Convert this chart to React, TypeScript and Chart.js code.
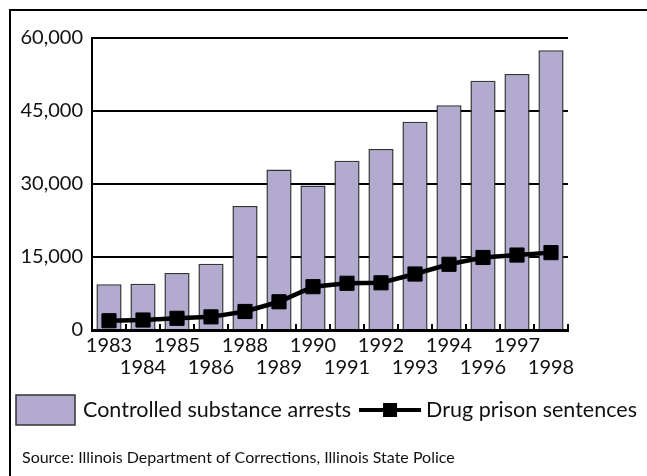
import React, { useEffect, useRef } from "react";
import { Chart, registerables } from "chart.js";

Chart.register(...registerables);

// Years shown along the bottom axis (alternating rows)
const years = ["1983", "1984", "1985", "1986", "1988", "1989", "1990", "1991", "1992", "1993", "1994", "1996", "1997", "1998"];

// Controlled substance arrests per year
const arrests = [9400, 9500, 11700, 13600, 25500, 33000, 29700, 34800, 37200, 42800, 46200, 51200, 52600, 57500];

// Drug prison sentences per year
const sentences = [1900, 2050, 2400, 2700, 3800, 5800, 8900, 9600, 9700, 11500, 13500, 14900, 15400, 15900];

// Value axis ticks
const yTicks = [0, 15000, 30000, 45000, 60000];

const arrestsLabel = "Controlled substance arrests";
const sentencesLabel = "Drug prison sentences";
const sourceNote = "Source: Illinois Department of Corrections, Illinois State Police";

const BAR_FILL = "#b3aacf";
const BAR_EDGE = "#333333";
const INK = "#111111";
const FONT = "Lato, 'Open Sans', sans-serif";

// Split labels onto two rows so neighbouring years never collide
const twoRowLabels = years.map((y, i) => (i % 2 === 0 ? [y, ""] : ["", y]));

// Short upward ticks at category boundaries along the bottom axis
const boundaryTicks = {
  id: "boundaryTicks",
  beforeDatasetsDraw(chart: any) {
    const x = chart.scales.x;
    const area = chart.chartArea;
    const n = years.length;
    const ctx = chart.ctx;
    ctx.save();
    ctx.strokeStyle = "#000";
    ctx.lineWidth = 2;
    for (let i = 1; i <= n; i++) {
      const px = x.left + (i * (x.right - x.left)) / n;
      ctx.beginPath();
      ctx.moveTo(px, area.bottom);
      ctx.lineTo(px, area.bottom - 6);
      ctx.stroke();
    }
    ctx.restore();
  },
};

// Legend row and source note beneath the chart
const legendAndNote = {
  id: "legendAndNote",
  afterDraw(chart: any) {
    const ctx = chart.ctx;
    const rowY = 410;
    ctx.save();

    // swatch for the bar series
    const sw = { x: 16, y: 395, w: 59, h: 30 };
    ctx.fillStyle = BAR_FILL;
    ctx.fillRect(sw.x, sw.y, sw.w, sw.h);
    ctx.strokeStyle = BAR_EDGE;
    ctx.lineWidth = 1.5;
    ctx.strokeRect(sw.x, sw.y, sw.w, sw.h);

    ctx.font = `21.5px ${FONT}`;
    ctx.fillStyle = INK;
    ctx.textBaseline = "middle";
    ctx.textAlign = "left";
    const t1x = sw.x + sw.w + 8;
    ctx.fillText(arrestsLabel, t1x, rowY);
    const t1w = ctx.measureText(arrestsLabel).width;

    // line sample with square marker
    const lx0 = t1x + t1w + 8;
    const lx1 = lx0 + 62;
    ctx.strokeStyle = "#000";
    ctx.lineWidth = 4;
    ctx.beginPath();
    ctx.moveTo(lx0, rowY);
    ctx.lineTo(lx1, rowY);
    ctx.stroke();
    const m = 14;
    ctx.fillStyle = "#000";
    ctx.fillRect((lx0 + lx1) / 2 - m / 2, rowY - m / 2, m, m);

    ctx.fillStyle = INK;
    ctx.fillText(sentencesLabel, lx1 + 5, rowY);

    ctx.font = `16px ${FONT}`;
    ctx.fillText(sourceNote, 22, 458);
    ctx.restore();
  },
};

export default function App() {
  const canvasRef = useRef<HTMLCanvasElement | null>(null);

  useEffect(() => {
    const canvas = canvasRef.current;
    if (!canvas) return;
    const chart = new Chart(canvas, {
      type: "bar",
      data: {
        labels: twoRowLabels as any,
        datasets: [
          {
            type: "line",
            label: sentencesLabel,
            data: sentences,
            borderColor: "#000",
            backgroundColor: "#000",
            borderWidth: 4.5,
            pointStyle: "rect",
            pointRadius: 10,
            pointBorderWidth: 1,
            pointBackgroundColor: "#000",
            pointBorderColor: "#000",
            tension: 0,
            order: 0,
          } as any,
          {
            type: "bar",
            label: arrestsLabel,
            data: arrests,
            backgroundColor: BAR_FILL,
            borderColor: BAR_EDGE,
            borderWidth: 1.5,
            barPercentage: 0.74,
            categoryPercentage: 1,
            order: 1,
          },
        ],
      },
      options: {
        responsive: false,
        animation: false,
        layout: { padding: { left: 0, right: 79, top: 38, bottom: 86 } },
        plugins: {
          legend: { display: false },
          tooltip: { enabled: false },
        },
        scales: {
          x: {
            offset: true,
            grid: { display: true, drawOnChartArea: false, drawTicks: false },
            border: { display: true, color: "#000", width: 3 },
            ticks: {
              color: INK,
              font: { family: FONT, size: 20, lineHeight: 1.1 },
              padding: 5,
              maxRotation: 0,
              autoSkip: false,
            },
            afterFit(scale: any) {
              scale.height = 60;
            },
          },
          y: {
            min: 0,
            max: 60000,
            afterBuildTicks(scale: any) {
              scale.ticks = yTicks.map((v) => ({ value: v }));
            },
            grid: { color: "#000", lineWidth: 2, drawTicks: false },
            border: { display: true, color: "#000", width: 2 },
            ticks: {
              color: INK,
              font: { family: FONT, size: 20 },
              padding: 9,
              callback: (v: any) => Number(v).toLocaleString("en-US"),
            },
            afterFit(scale: any) {
              scale.width = 92;
            },
          },
        },
      },
      plugins: [boundaryTicks, legendAndNote],
    });
    return () => chart.destroy();
  }, []);

  return (
    <div
      style={{
        position: "fixed",
        left: 0,
        top: 0,
        width: 647,
        height: 476,
        overflow: "hidden",
        background: "#fff",
      }}
    >
      <div
        style={{
          position: "absolute",
          left: 9,
          top: 9,
          width: 700,
          height: 520,
          borderLeft: "2px solid #000",
          borderTop: "2px solid #000",
        }}
      />
      <canvas
        ref={canvasRef}
        width={647}
        height={476}
        style={{ position: "absolute", left: 0, top: 0, width: 647, height: 476 }}
      />
    </div>
  );
}
